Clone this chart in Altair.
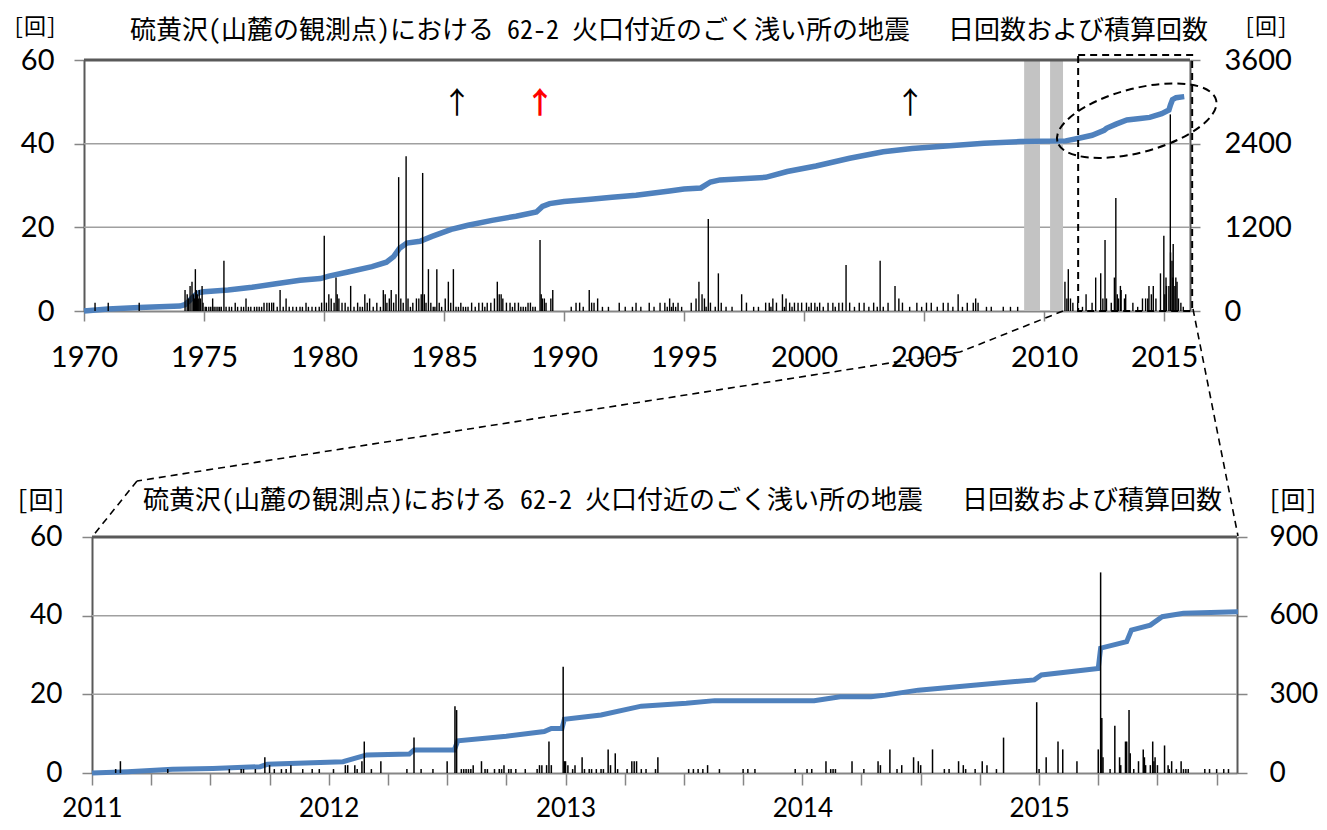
import altair as alt
import pandas as pd

# ------------------------------------------------------------------ data
TITLE_A = "硫黄沢(山麓の観測点)における 62-2 火口付近のごく浅い所の地震"
TITLE_B = "日回数および積算回数"
UNIT = "[回]"

# daily counts, upper panel (year, count)
top_daily_1970s = [
    (1970.46, 2), (1971.01, 2), (1972.30, 2),
    (1974.21, 5), (1974.30, 4), (1974.36, 3), (1974.42, 6), (1974.50, 7), (1974.56, 4),
    (1974.60, 3), (1974.64, 10), (1974.68, 5), (1974.72, 4), (1974.76, 3), (1974.80, 5),
    (1974.85, 3), (1974.92, 6), (1974.96, 2),
    (1975.05, 1), (1975.10, 1), (1975.20, 1), (1975.28, 1), (1975.36, 3), (1975.42, 1),
    (1975.50, 1), (1975.58, 1), (1975.65, 1), (1975.72, 1), (1975.83, 12), (1975.92, 1),
    (1976.05, 1), (1976.15, 1), (1976.30, 2), (1976.40, 1), (1976.55, 1), (1976.65, 1),
    (1976.75, 3), (1976.85, 1), (1976.95, 1), (1977.10, 1), (1977.20, 1), (1977.30, 1),
    (1977.40, 1), (1977.50, 2), (1977.62, 2), (1977.72, 2), (1977.82, 2), (1977.90, 2),
    (1978.05, 1), (1978.17, 5), (1978.30, 1), (1978.42, 3), (1978.55, 1), (1978.70, 1),
    (1978.85, 1), (1979.00, 1), (1979.10, 1), (1979.25, 2), (1979.35, 1), (1979.50, 1),
    (1979.65, 1), (1979.80, 1), (1979.90, 2),
]
top_daily_1980s = [
    (1980.01, 18), (1980.10, 2), (1980.20, 4), (1980.30, 3), (1980.42, 2), (1980.50, 8),
    (1980.55, 4), (1980.62, 3), (1980.75, 2), (1980.88, 2), (1981.00, 1), (1981.11, 6),
    (1981.25, 1), (1981.40, 2), (1981.50, 1), (1981.60, 1), (1981.70, 4), (1981.80, 2),
    (1981.90, 3), (1982.05, 1), (1982.20, 2), (1982.35, 1), (1982.47, 5), (1982.55, 4),
    (1982.62, 2), (1982.72, 3), (1982.80, 5), (1982.90, 2), (1983.00, 4), (1983.11, 32),
    (1983.20, 3), (1983.30, 2), (1983.42, 37), (1983.50, 3), (1983.60, 1), (1983.70, 2),
    (1983.85, 3), (1983.95, 3), (1984.05, 4), (1984.11, 33), (1984.18, 4), (1984.25, 2),
    (1984.35, 10), (1984.45, 2), (1984.55, 1), (1984.62, 1), (1984.70, 10), (1984.80, 2),
    (1984.90, 1), (1985.05, 3), (1985.18, 7), (1985.28, 2), (1985.39, 10), (1985.50, 1),
    (1985.60, 1), (1985.70, 2), (1985.80, 1), (1985.90, 1), (1986.00, 1), (1986.15, 2),
    (1986.30, 1), (1986.45, 2), (1986.60, 2), (1986.70, 1), (1986.80, 2), (1986.95, 2),
    (1987.10, 3), (1987.22, 7), (1987.30, 4), (1987.38, 4), (1987.45, 3), (1987.60, 2),
    (1987.75, 2), (1987.85, 1), (1987.95, 2), (1988.10, 2), (1988.20, 1), (1988.30, 1),
    (1988.40, 1), (1988.50, 2), (1988.60, 2), (1988.70, 1), (1988.80, 1), (1989.00, 17),
    (1989.05, 4), (1989.10, 3), (1989.18, 3), (1989.25, 2), (1989.45, 3), (1989.53, 5),
]
top_daily_1990s = [
    (1990.30, 1), (1990.50, 2), (1990.65, 2), (1990.80, 1), (1991.05, 5), (1991.15, 2),
    (1991.25, 2), (1991.40, 3), (1991.60, 1), (1991.85, 1), (1992.30, 2), (1992.55, 1),
    (1992.85, 1), (1993.00, 2), (1993.20, 1), (1993.55, 2), (1993.75, 1), (1994.00, 2),
    (1994.20, 2), (1994.30, 1), (1994.40, 3), (1994.48, 1), (1994.55, 2), (1994.65, 1),
    (1994.75, 2), (1994.90, 1), (1995.30, 2), (1995.50, 3), (1995.62, 7), (1995.75, 4),
    (1995.85, 3), (1995.92, 1), (1996.01, 22), (1996.10, 2), (1996.30, 1), (1996.43, 9),
    (1996.55, 2), (1996.75, 1), (1997.00, 1), (1997.40, 4), (1997.60, 2), (1997.90, 1),
    (1998.10, 1), (1998.40, 2), (1998.55, 2), (1998.62, 1), (1998.70, 3), (1998.85, 2),
    (1999.10, 4), (1999.18, 1), (1999.25, 3), (1999.40, 2), (1999.50, 1), (1999.60, 2),
    (1999.75, 2), (1999.90, 2),
]
top_daily_2000s = [
    (2000.10, 2), (2000.20, 1), (2000.30, 2), (2000.45, 2), (2000.55, 1), (2000.65, 2),
    (2000.80, 1), (2001.00, 2), (2001.20, 2), (2001.30, 1), (2001.45, 2), (2001.60, 2),
    (2001.75, 11), (2001.90, 2), (2002.10, 1), (2002.30, 2), (2002.50, 2), (2002.70, 1),
    (2002.90, 2), (2003.05, 1), (2003.17, 12), (2003.30, 1), (2003.50, 2), (2003.79, 6),
    (2003.95, 3), (2004.10, 2), (2004.40, 1), (2004.70, 2), (2004.90, 1), (2005.10, 2),
    (2005.30, 2), (2005.55, 1), (2005.80, 2), (2006.00, 2), (2006.20, 1), (2006.42, 4),
    (2006.60, 1), (2006.80, 2), (2007.05, 2), (2007.15, 3), (2007.25, 2), (2007.60, 1),
    (2007.80, 1), (2008.30, 1), (2008.60, 1), (2008.90, 1),
]
top_daily_2010s = [
    (2010.87, 7), (2010.95, 3), (2011.01, 10), (2011.10, 3), (2011.20, 2), (2011.40, 2),
    (2011.60, 1), (2011.75, 4), (2012.00, 2), (2012.15, 8), (2012.36, 9), (2012.45, 3),
    (2012.54, 17), (2012.60, 3), (2012.80, 2), (2012.93, 8), (2012.99, 27), (2013.05, 4),
    (2013.10, 3), (2013.18, 6), (2013.21, 5), (2013.35, 3), (2013.40, 4), (2013.70, 2),
    (2013.90, 1), (2014.10, 3), (2014.23, 3), (2014.32, 3), (2014.37, 6), (2014.47, 4),
    (2014.55, 6), (2014.66, 3), (2014.85, 9), (2014.99, 18), (2015.03, 4), (2015.08, 8),
    (2015.10, 6), (2015.20, 6), (2015.26, 47), (2015.27, 14), (2015.33, 12), (2015.37, 8),
    (2015.38, 16), (2015.45, 6), (2015.49, 8), (2015.54, 7), (2015.60, 3), (2015.70, 2),
    (2015.80, 1),
]
# cumulative count, upper panel (year, cumulative) on the right axis
top_cumulative = [
    (1970.0, 0), (1970.5, 15), (1971.0, 30), (1972.3, 50), (1974.0, 70), (1974.2, 90),
    (1974.4, 150), (1974.6, 220), (1974.8, 265), (1975.0, 277), (1976.0, 300),
    (1977.0, 340), (1978.0, 390), (1979.0, 440), (1979.85, 465), (1980.2, 500),
    (1981.0, 560), (1982.0, 636), (1982.6, 700), (1982.9, 780), (1983.15, 900),
    (1983.45, 975), (1984.0, 1000), (1984.5, 1070), (1985.3, 1170), (1986.0, 1230),
    (1987.0, 1300), (1988.0, 1360), (1988.85, 1420), (1989.1, 1500), (1989.4, 1540),
    (1990.0, 1570), (1991.0, 1600), (1992.0, 1630), (1993.0, 1660), (1994.4, 1720),
    (1995.0, 1750), (1995.7, 1765), (1996.1, 1850), (1996.5, 1880), (1998.4, 1917),
    (1999.3, 2000), (2000.5, 2080), (2001.9, 2190), (2003.3, 2285), (2004.5, 2330),
    (2005.5, 2355), (2007.5, 2405), (2009.0, 2430), (2010.9, 2440), (2011.4, 2475),
    (2012.0, 2520), (2012.5, 2590), (2012.6, 2620), (2013.0, 2680), (2013.45, 2740),
    (2014.0, 2760), (2014.4, 2777), (2014.9, 2830), (2015.2, 2882), (2015.27, 2960),
    (2015.35, 3030), (2015.5, 3060), (2015.84, 3075),
]

# daily counts, lower panel (year, count)
bot_daily_2011 = [
    (2011.10, 1), (2011.12, 3), (2011.32, 1), (2011.58, 1), (2011.63, 1), (2011.64, 1),
    (2011.69, 1), (2011.73, 4), (2011.75, 2), (2011.77, 1), (2011.80, 1), (2011.82, 1),
    (2011.84, 2), (2011.89, 1), (2011.93, 1), (2011.96, 1),
]
bot_daily_2012 = [
    (2012.02, 1), (2012.07, 2), (2012.08, 2), (2012.11, 2), (2012.12, 1), (2012.14, 3),
    (2012.15, 8), (2012.18, 1), (2012.22, 3), (2012.33, 1), (2012.36, 9), (2012.39, 1),
    (2012.44, 1), (2012.50, 3), (2012.533, 17), (2012.54, 16), (2012.56, 1), (2012.57, 1),
    (2012.58, 1), (2012.59, 1), (2012.60, 1), (2012.61, 2), (2012.645, 3), (2012.66, 1),
    (2012.67, 1), (2012.70, 1), (2012.72, 1), (2012.73, 1), (2012.74, 2), (2012.76, 1),
    (2012.77, 1), (2012.79, 1), (2012.83, 1), (2012.88, 1), (2012.89, 2), (2012.90, 2),
    (2012.92, 2), (2012.93, 8), (2012.94, 2), (2012.99, 27), (2012.995, 3),
]
bot_daily_2013 = [
    (2013.00, 3), (2013.01, 2), (2013.03, 1), (2013.04, 2), (2013.07, 4), (2013.08, 1),
    (2013.10, 1), (2013.11, 1), (2013.13, 1), (2013.15, 1), (2013.16, 1), (2013.18, 6),
    (2013.19, 2), (2013.21, 5), (2013.22, 1), (2013.26, 1), (2013.28, 3), (2013.29, 3),
    (2013.30, 3), (2013.32, 1), (2013.34, 1), (2013.38, 1), (2013.39, 4), (2013.52, 1),
    (2013.54, 1), (2013.56, 1), (2013.58, 1), (2013.60, 2), (2013.65, 1), (2013.75, 1),
    (2013.77, 1), (2013.80, 1), (2013.97, 1),
]
bot_daily_2014 = [
    (2014.02, 1), (2014.04, 1), (2014.10, 3), (2014.12, 1), (2014.13, 1), (2014.14, 1),
    (2014.21, 3), (2014.26, 1), (2014.32, 3), (2014.33, 2), (2014.37, 6), (2014.40, 1),
    (2014.42, 2), (2014.47, 4), (2014.49, 3), (2014.50, 2), (2014.55, 6), (2014.60, 1),
    (2014.62, 1), (2014.66, 3), (2014.68, 2), (2014.69, 1), (2014.73, 1), (2014.76, 3),
    (2014.78, 2), (2014.82, 1), (2014.85, 9), (2014.99, 18),
]
bot_daily_2015 = [
    (2015.00, 1), (2015.03, 4), (2015.08, 8), (2015.10, 6), (2015.16, 3), (2015.25, 6),
    (2015.26, 51), (2015.265, 14), (2015.27, 4), (2015.30, 1), (2015.32, 12), (2015.34, 4),
    (2015.345, 2), (2015.365, 8), (2015.37, 8), (2015.38, 16), (2015.385, 5), (2015.40, 1),
    (2015.42, 3), (2015.44, 6), (2015.445, 4), (2015.45, 2), (2015.47, 2), (2015.48, 8),
    (2015.485, 3), (2015.49, 4), (2015.50, 2), (2015.53, 7), (2015.545, 2), (2015.55, 1),
    (2015.56, 3), (2015.58, 1), (2015.60, 3), (2015.61, 1), (2015.62, 1), (2015.63, 1),
    (2015.70, 1), (2015.72, 1), (2015.75, 1), (2015.78, 1), (2015.80, 1),
]
bot_cumulative = [
    (2011.0, 0), (2011.15, 5), (2011.34, 14), (2011.51, 17), (2011.71, 24), (2011.74, 33),
    (2012.06, 43), (2012.16, 69), (2012.34, 72), (2012.36, 88), (2012.53, 88),
    (2012.545, 123), (2012.75, 140), (2012.91, 158), (2012.94, 170), (2012.985, 170),
    (2012.995, 205), (2013.15, 221), (2013.32, 255), (2013.51, 266), (2013.63, 276),
    (2014.05, 276), (2014.16, 291), (2014.29, 291), (2014.35, 297), (2014.49, 316),
    (2014.84, 344), (2014.98, 355), (2015.01, 374), (2015.25, 399), (2015.26, 476),
    (2015.37, 501), (2015.39, 545), (2015.47, 564), (2015.52, 596), (2015.61, 609),
    (2015.84, 615),
]

# annotations on the upper panel
gap_start = [2009.17, 2010.25]
gap_end = [2009.83, 2010.79]
arrow_black_year = [1985.54, 2004.42]
arrow_red_year = [1989.0]
zoom_box_from = [2011.42]
zoom_box_to = [2016.17]
ellipse_year = [2013.86]
ellipse_level = [45.5]

grid_levels = [20, 40]
top_x_ticks = [1970, 1975, 1980, 1985, 1990, 1995, 2000, 2005, 2010, 2015]
left_ticks = [0, 20, 40, 60]
top_right_ticks = [0, 1200, 2400, 3600]
bot_right_ticks = [0, 300, 600, 900]
bot_x_ticks = [2011, 2011.25, 2011.5, 2011.75, 2012, 2012.25, 2012.5, 2012.75,
               2013, 2013.25, 2013.5, 2013.75, 2014, 2014.25, 2014.5, 2014.75,
               2015, 2015.25, 2015.5, 2015.75]

# ------------------------------------------------------------------ layout
NUM = "Lato"
CJK = "Noto Sans CJK JP"
TITLE_FONT = "'Noto Sans Mono CJK JP', 'Noto Sans CJK JP'"
W, H = 1153, 713
TOP_W, TOP_H = 1106, 251
BOT_X0, BOT_Y0 = 8, 477
BLUE = "#4f81bd"
FRAME = "#595959"
AXGRAY = "#868686"


def pairs(*lists):
    rows = [r for lst in lists for r in lst]
    return pd.DataFrame(rows, columns=["year", "v"])


df_top_bars = pairs(top_daily_1970s, top_daily_1980s, top_daily_1990s,
                    top_daily_2000s, top_daily_2010s)
df_top_cum = pairs(top_cumulative)
df_bot_bars = pairs(bot_daily_2011, bot_daily_2012, bot_daily_2013,
                    bot_daily_2014, bot_daily_2015)
df_bot_cum = pairs(bot_cumulative)
one = pd.DataFrame({"k": [0]})

xs_top = alt.Scale(domain=[1970, 2016.08], range=[0, TOP_W], nice=False, zero=False)
yl_top = alt.Scale(domain=[0, 60], range=[TOP_H, 0], nice=False, zero=False)
yr_top = alt.Scale(domain=[0, 3600], range=[TOP_H, 0], nice=False, zero=False)
xs_bot = alt.Scale(domain=[2011, 2015.836], range=[BOT_X0, W], nice=False, zero=False)
yl_bot = alt.Scale(domain=[0, 60], range=[H, BOT_Y0], nice=False, zero=False)
yr_bot = alt.Scale(domain=[0, 900], range=[H, BOT_Y0], nice=False, zero=False)


def ax(**kw):
    base = dict(grid=False, title=None, labelFont=NUM, labelColor="#000000",
                tickColor=AXGRAY, tickWidth=1.5, domainWidth=2,
                labelOverlap=False, labelFlush=False)
    base.update(kw)
    return alt.Axis(**base)


top_x_axis = ax(orient="bottom", offset=TOP_H - H, values=top_x_ticks, format="d",
                tickSize=10, labelPadding=22, labelFontSize=29, domainColor=AXGRAY)
top_yl_axis = ax(orient="left", values=left_ticks, format="d", tickSize=10,
                 labelPadding=20, labelFontSize=29, domainColor=FRAME)
top_yr_axis = ax(orient="right", offset=TOP_W - W, values=top_right_ticks, format="d",
                 tickSize=10, labelPadding=24, labelFontSize=29, domainColor=FRAME)
bot_x_axis = ax(orient="bottom", values=bot_x_ticks, tickSize=12, labelPadding=10,
                labelFontSize=26, domainColor=AXGRAY,
                labelExpr="datum.value == floor(datum.value) ? format(datum.value, 'd') : ''")
bot_yl_axis = ax(orient="left", offset=-BOT_X0, values=left_ticks, format="d",
                 tickSize=10, labelPadding=20, labelFontSize=28, domainColor=FRAME)
bot_yr_axis = ax(orient="right", values=bot_right_ticks, format="d", tickSize=10,
                 labelPadding=22, labelFontSize=28, domainColor=FRAME)

layers = []

# --- upper panel
layers.append(alt.Chart(pd.DataFrame({"lv": grid_levels})).mark_rule(
    color="#a0a0a0", strokeWidth=1.5).encode(
    x=alt.value(0), x2=alt.value(TOP_W),
    y=alt.Y("lv:Q", scale=yl_top, axis=None)))
layers.append(alt.Chart(pd.DataFrame({"s": gap_start, "e": gap_end})).mark_rect(
    color="#c3c3c3").encode(
    x=alt.X("s:Q", scale=xs_top, axis=None), x2="e:Q",
    y=alt.value(0), y2=alt.value(TOP_H)))
layers.append(alt.Chart(df_top_cum).mark_line(color=BLUE, strokeWidth=5.5).encode(
    x=alt.X("year:Q", scale=xs_top, axis=None),
    y=alt.Y("v:Q", scale=yr_top, axis=top_yr_axis)))
layers.append(alt.Chart(df_top_bars).mark_rule(color="black", strokeWidth=1.4).encode(
    x=alt.X("year:Q", scale=xs_top, axis=top_x_axis),
    y=alt.Y("v:Q", scale=yl_top, axis=top_yl_axis),
    y2=alt.datum(0)))
layers.append(alt.Chart(one).mark_rule(color=FRAME, strokeWidth=3).encode(
    x=alt.value(0), x2=alt.value(TOP_W), y=alt.value(0)))
layers.append(alt.Chart(pd.DataFrame({"year": arrow_black_year})).mark_text(
    text="↑", font=CJK, fontSize=30, color="black", baseline="middle").encode(
    x=alt.X("year:Q", scale=xs_top, axis=None), y=alt.value(44)))
layers.append(alt.Chart(pd.DataFrame({"year": arrow_red_year})).mark_text(
    text="↑", font=CJK, fontSize=30, fontWeight="bold", color="#ff0000",
    baseline="middle").encode(
    x=alt.X("year:Q", scale=xs_top, axis=None), y=alt.value(44)))
layers.append(alt.Chart(pd.DataFrame({"a": zoom_box_from, "b": zoom_box_to})).mark_rect(
    fillOpacity=0, stroke="black", strokeWidth=2, strokeDash=[7, 5]).encode(
    x=alt.X("a:Q", scale=xs_top, axis=None), x2="b:Q",
    y=alt.value(-5), y2=alt.value(TOP_H)))

ELLIPSE = ("M -1 0 C -1 -0.215 -0.552 -0.39 0 -0.39 C 0.552 -0.39 1 -0.215 1 0 "
           "C 1 0.215 0.552 0.39 0 0.39 C -0.552 0.39 -1 0.215 -1 0 Z")
layers.append(alt.Chart(pd.DataFrame({"year": ellipse_year, "lv": ellipse_level})).mark_point(
    shape=ELLIPSE, size=26896, angle=345.3, filled=False, stroke="black",
    strokeWidth=2, strokeDash=[8, 5], opacity=1).encode(
    x=alt.X("year:Q", scale=xs_top, axis=None),
    y=alt.Y("lv:Q", scale=yl_top, axis=None)))


def seg(x1, y1, x2, y2):
    return alt.Chart(one).mark_rule(color="black", strokeWidth=1.6,
                                    strokeDash=[7, 5]).encode(
        x=alt.value(x1), y=alt.value(y1), x2=alt.value(x2), y2=alt.value(y2))


# connector from the zoom box down to the lower panel
layers.append(seg(979, 251, 876, 292))
layers.append(seg(876, 292, 53, 421))
layers.append(seg(53, 421, 8, 477))
layers.append(seg(1109, 249, 1154, 476))

# --- lower panel
layers.append(alt.Chart(pd.DataFrame({"lv": grid_levels})).mark_rule(
    color="#a0a0a0", strokeWidth=1.5).encode(
    x=alt.value(BOT_X0), x2=alt.value(W),
    y=alt.Y("lv:Q", scale=yl_bot, axis=None)))
layers.append(alt.Chart(df_bot_cum).mark_line(color=BLUE, strokeWidth=5).encode(
    x=alt.X("year:Q", scale=xs_bot, axis=None),
    y=alt.Y("v:Q", scale=yr_bot, axis=bot_yr_axis)))
layers.append(alt.Chart(df_bot_bars).mark_rule(color="black", strokeWidth=1.5).encode(
    x=alt.X("year:Q", scale=xs_bot, axis=bot_x_axis),
    y=alt.Y("v:Q", scale=yl_bot, axis=bot_yl_axis),
    y2=alt.datum(0)))
layers.append(alt.Chart(one).mark_rule(color=FRAME, strokeWidth=3).encode(
    x=alt.value(BOT_X0), x2=alt.value(W), y=alt.value(BOT_Y0)))


# --- titles and unit labels
def label(txt, x, y, align="left", size=26, font=TITLE_FONT):
    return alt.Chart(pd.DataFrame({"t": [txt]})).mark_text(
        align=align, baseline="middle", font=font, fontSize=size, color="black").encode(
        x=alt.value(x), y=alt.value(y), text="t:N")


layers += [
    label(TITLE_A, 46, -29.5), label(TITLE_B, 864, -29.5),
    label(TITLE_A, 59, 441), label(TITLE_B, 878, 441),
    label(UNIT, -49, -33, "center", 22), label(UNIT, 1182, -33, "center", 22),
    label(UNIT, -43, 441, "center", 25), label(UNIT, 1209, 441, "center", 25),
]

chart = alt.layer(*layers).resolve_scale(
    x="independent", y="independent"
).properties(
    width=W, height=H,
    autosize=alt.AutoSizeParams(type="none"),
    padding={"left": 76, "top": 52, "right": 82, "bottom": 49},
    background="white",
).configure_view(stroke=None)

chart.save("out.html", embed_options={"renderer": "svg", "actions": False})
